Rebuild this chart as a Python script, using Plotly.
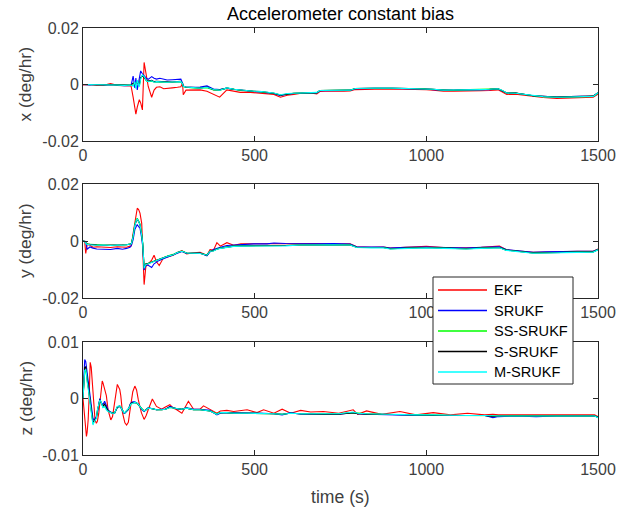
import numpy as np
import plotly.graph_objects as go
from plotly.subplots import make_subplots

SCALE = 1e-3  # values below are typed in units of 0.001 deg/hr

# ---------------- x channel ----------------
T_X = [0, 20, 40, 60, 80, 100, 120, 140, 146, 151,
       154, 158, 164, 168, 173, 178, 185, 190, 200, 207,
       214, 224, 235, 245, 260, 275, 285, 290, 292, 300,
       320, 341, 361, 380, 398, 419, 440, 458, 480, 497,
       520, 536, 556, 575, 595, 614, 640, 663, 681, 690,
       720, 760, 778, 793, 813, 850, 900, 950, 993, 1000,
       1020, 1050, 1080, 1099, 1130, 1160, 1184, 1209, 1220, 1234,
       1260, 1290, 1311, 1340, 1380, 1420, 1460, 1486, 1500]
EKF_X = [-0.2, 0.0, -0.3, -0.3, 0.3, -0.3, -0.4, -0.5, -4.5, -9.0,
         -10.5, -8.0, -5.4, -6.5, -9.0, 7.8, 2.0, -0.7, -4.5, -2.0,
         -1.0, -0.8, -1.5, -1.3, -1.2, -1.0, -0.8, 0.5, -3.6, -2.0,
         -1.9, -1.9, -2.4, -3.5, -4.5, -1.9, -2.3, -2.8, -2.7, -2.9,
         -3.0, -3.2, -3.5, -4.5, -3.8, -3.5, -3.0, -3.0, -3.3, -2.5,
         -2.3, -2.4, -2.3, -1.8, -1.7, -1.7, -1.6, -1.6, -1.6, -1.8,
         -2.0, -2.4, -2.4, -2.4, -2.2, -2.2, -2.1, -1.9, -2.6, -3.5,
         -3.4, -3.8, -4.3, -4.6, -4.9, -4.7, -4.6, -4.5, -3.4]
SRUKF_X = [0.0, -0.2, 0.0, -0.2, -0.1, -0.3, -0.4, -0.3, 3.0, -1.2,
           2.3, -1.9, 1.5, 4.8, 3.8, 3.0, 2.2, 1.8, 2.8, 2.2,
           1.9, 2.2, 1.9, 1.6, 1.7, 1.8, 1.9, 0.5, -0.5, -1.0,
           -1.0, -0.9, -0.5, -1.6, -1.8, -1.3, -1.8, -2.0, -2.3, -2.5,
           -2.6, -2.8, -3.2, -4.0, -3.4, -3.2, -3.1, -3.0, -3.0, -2.2,
           -2.1, -2.1, -2.1, -1.5, -1.4, -1.4, -1.4, -1.4, -1.4, -1.6,
           -1.8, -2.0, -2.1, -1.9, -1.9, -1.9, -1.8, -1.6, -2.3, -3.0,
           -3.0, -3.5, -4.0, -4.2, -4.4, -4.3, -4.2, -4.1, -3.0]
SS_SRUKF_X = [0.0, -0.1, -0.2, -0.1, -0.1, -0.2, -0.3, -0.2, -0.3, 0.8,
              -1.0, 1.2, -0.5, 2.2, 3.2, 2.6, 1.2, 1.1, 1.2, 0.9,
              1.0, 0.8, 0.8, 0.7, 0.8, 0.9, 1.0, 0.2, -0.7, -1.0,
              -1.2, -1.3, -1.1, -1.9, -2.0, -1.3, -1.7, -2.1, -2.2, -2.4,
              -2.5, -2.7, -3.1, -3.7, -3.3, -3.1, -3.0, -2.9, -2.9, -2.1,
              -2.0, -2.1, -2.0, -1.4, -1.4, -1.3, -1.3, -1.4, -1.4, -1.6,
              -1.7, -2.0, -2.1, -1.9, -1.8, -1.8, -1.7, -1.5, -2.1, -3.0,
              -3.0, -3.6, -4.0, -4.3, -4.5, -4.4, -4.3, -4.2, -3.0]
S_SRUKF_X = [0.0, -0.1, -0.1, -0.1, -0.1, -0.2, -0.3, -0.2, 0.5, 0.2,
             -0.5, 0.8, 0.0, 2.5, 3.0, 2.5, 1.4, 1.2, 1.5, 1.0,
             1.1, 1.0, 0.9, 0.8, 0.9, 1.0, 1.1, 0.3, -0.6, -0.9,
             -1.1, -1.2, -0.9, -1.8, -1.9, -1.3, -1.7, -2.0, -2.2, -2.4,
             -2.5, -2.7, -3.1, -3.7, -3.3, -3.1, -3.0, -2.9, -2.9, -2.1,
             -2.0, -2.0, -2.0, -1.4, -1.3, -1.3, -1.3, -1.4, -1.4, -1.5,
             -1.7, -2.0, -2.0, -1.8, -1.8, -1.8, -1.7, -1.5, -2.1, -3.0,
             -3.0, -3.5, -4.0, -4.2, -4.4, -4.3, -4.2, -4.1, -2.9]
M_SRUKF_X = [0.0, 0.0, -0.2, 0.0, -0.1, -0.2, -0.3, -0.2, -0.6, 1.0,
             -1.5, 1.5, -0.8, 2.0, 3.4, 2.8, 1.3, 1.0, 1.3, 0.8,
             1.0, 0.9, 0.7, 0.8, 0.9, 1.0, 1.0, 0.3, -0.6, -0.9,
             -1.1, -1.3, -1.0, -1.8, -2.0, -1.2, -1.7, -2.0, -2.2, -2.4,
             -2.5, -2.7, -3.0, -3.6, -3.2, -3.1, -3.0, -2.8, -2.8, -2.1,
             -2.0, -2.0, -2.0, -1.4, -1.3, -1.3, -1.3, -1.4, -1.4, -1.5,
             -1.7, -2.0, -2.0, -1.8, -1.8, -1.8, -1.7, -1.5, -2.0, -3.0,
             -3.1, -3.6, -4.0, -4.3, -4.5, -4.4, -4.3, -4.2, -2.9]

# ---------------- y channel ----------------
T_Y = [0, 5, 8, 12, 20, 29, 40, 60, 80, 100,
       115, 127, 137, 141, 146, 151, 156, 158, 162, 166,
       171, 174, 178, 183, 190, 200, 207, 214, 222, 234,
       248, 263, 275, 288, 302, 322, 341, 361, 370, 380,
       390, 400, 419, 439, 460, 497, 536, 556, 590, 633,
       681, 730, 778, 797, 840, 875, 895, 940, 1000, 1050,
       1116, 1160, 1213, 1233, 1270, 1311, 1350, 1398, 1440, 1486,
       1500]
EKF_Y = [0.0, -0.3, -4.4, -1.2, -1.5, -2.2, -2.0, -2.2, -2.3, -2.0,
         -2.2, -2.2, -1.8, -1.7, 2.7, 6.0, 10.0, 11.5, 11.0, 9.8,
         6.2, -1.0, -15.3, -9.0, -7.9, -6.7, -5.0, -7.3, -8.6, -6.0,
         -5.5, -5.0, -4.0, -3.4, -4.5, -4.1, -4.0, -5.0, -3.0, -3.2,
         -0.6, -1.8, -0.6, -1.5, -1.0, -1.0, -1.0, -0.8, -1.0, -1.0,
         -0.9, -1.1, -1.0, -2.0, -2.2, -2.1, -2.5, -2.2, -1.9, -2.3,
         -2.4, -2.2, -1.8, -3.1, -3.6, -4.0, -3.9, -3.6, -3.6, -3.6,
         -2.8]
SRUKF_Y = [0.0, 0.0, -0.2, -2.9, -2.1, -2.5, -2.8, -2.9, -3.0, -2.6,
           -2.9, -2.6, -2.2, -1.5, 0.5, 4.0, 5.6, 5.8, 5.0, 4.5,
           1.0, -2.0, -10.2, -8.5, -8.5, -9.3, -8.0, -7.3, -6.8, -6.2,
           -5.5, -4.8, -4.2, -3.7, -4.4, -4.3, -4.2, -5.2, -3.8, -3.0,
           -2.5, -2.2, -1.6, -1.4, -1.2, -1.0, -1.0, -0.7, -0.9, -1.0,
           -1.0, -0.9, -1.1, -2.0, -2.1, -2.1, -2.5, -2.2, -2.1, -2.3,
           -2.5, -2.2, -2.0, -3.0, -3.6, -4.0, -3.8, -3.6, -3.6, -3.6,
           -2.9]
SS_SRUKF_Y = [0.0, -0.2, -0.6, -1.0, -1.2, -1.3, -1.4, -1.4, -1.5, -1.3,
              -1.4, -1.3, -1.1, -0.9, 1.8, 5.8, 7.6, 8.0, 7.0, 6.0,
              2.3, -0.8, -9.3, -8.0, -7.8, -7.4, -7.0, -6.7, -6.4, -5.9,
              -5.2, -4.7, -4.0, -3.5, -4.2, -4.2, -4.3, -4.9, -3.6, -3.4,
              -2.8, -2.5, -2.1, -1.8, -1.7, -1.7, -1.6, -1.7, -1.6, -1.4,
              -1.3, -1.3, -1.3, -2.2, -2.3, -2.3, -2.7, -2.5, -2.3, -2.5,
              -2.7, -2.5, -2.3, -3.2, -3.8, -4.2, -4.1, -3.9, -3.9, -3.8,
              -3.0]
S_SRUKF_Y = [0.0, -0.2, -0.7, -1.1, -1.2, -1.4, -1.4, -1.5, -1.5, -1.4,
             -1.4, -1.3, -1.1, -0.9, 1.6, 5.6, 7.2, 7.6, 6.8, 5.7,
             2.1, -0.9, -9.4, -8.1, -7.9, -7.5, -7.0, -6.8, -6.5, -5.9,
             -5.3, -4.8, -4.0, -3.6, -4.2, -4.3, -4.3, -5.0, -3.6, -3.4,
             -2.8, -2.5, -2.1, -1.8, -1.7, -1.7, -1.6, -1.7, -1.6, -1.4,
             -1.3, -1.3, -1.4, -2.2, -2.3, -2.3, -2.7, -2.5, -2.3, -2.5,
             -2.7, -2.5, -2.3, -3.2, -3.8, -4.2, -4.1, -3.9, -3.9, -3.8,
             -3.0]
M_SRUKF_Y = [0.0, -0.3, -0.8, -1.2, -1.3, -1.4, -1.5, -1.4, -1.6, -1.4,
             -1.5, -1.3, -1.2, -1.0, 1.5, 5.5, 7.4, 7.8, 6.8, 5.8,
             2.0, -1.0, -9.6, -8.2, -8.0, -7.5, -7.1, -6.8, -6.5, -6.0,
             -5.3, -4.8, -4.0, -3.6, -4.2, -4.3, -4.4, -5.0, -3.6, -3.5,
             -2.9, -2.6, -2.2, -1.9, -1.8, -1.8, -1.7, -1.8, -1.7, -1.4,
             -1.3, -1.3, -1.4, -2.3, -2.4, -2.4, -2.8, -2.6, -2.4, -2.6,
             -2.8, -2.6, -2.4, -3.3, -3.9, -4.3, -4.2, -4.0, -4.0, -3.9,
             -3.1]

# ---------------- z channel ----------------
T_Z = [0, 3, 5, 8, 10, 12, 15, 18, 21, 24,
       27, 29, 32, 35, 39, 42, 46, 49, 52, 56,
       58, 63, 68, 73, 81, 86, 92, 100, 107, 110,
       115, 119, 122, 127, 132, 136, 139, 145, 151, 156,
       161, 170, 178, 184, 190, 202, 214, 229, 240, 253,
       263, 273, 288, 302, 307, 322, 341, 351, 370, 390,
       400, 419, 439, 478, 507, 526, 556, 580, 605, 634,
       663, 700, 745, 787, 800, 826, 870, 923, 970, 1020,
       1070, 1120, 1170, 1194, 1210, 1260, 1320, 1380, 1440, 1490,
       1500]
EKF_Z = [0.0, -2.0, -3.2, -5.5, -6.7, -6.0, -3.8, 0.5, 6.4, 5.5,
         2.7, 0.5, -2.6, -3.8, -4.4, -4.0, -2.6, -0.5, 1.5, 3.1,
         2.8, 1.6, 0.5, -2.0, -3.8, -3.2, -0.8, 2.5, 1.6, 0.5,
         -2.5, -3.8, -4.3, -4.7, -4.2, -2.5, -1.0, 1.2, 2.2, 1.5,
         -0.2, -2.5, -3.7, -3.0, -2.0, -0.1, -1.4, -1.9, -1.5, -1.1,
         -1.7, -2.0, -2.6, -1.0, -0.5, -1.9, -1.9, -1.3, -2.0, -2.6,
         -2.2, -2.1, -2.3, -2.0, -2.5, -2.0, -2.6, -1.9, -2.6, -2.1,
         -2.4, -2.3, -2.6, -2.0, -2.8, -2.2, -2.8, -2.3, -2.9, -2.5,
         -2.9, -2.6, -2.9, -2.8, -2.9, -2.9, -3.0, -2.9, -3.0, -2.9,
         -3.2]
SRUKF_Z = [0.0, 4.5, 6.9, 6.5, 5.5, 5.0, 3.5, 1.5, 0.0, -2.0,
           -3.0, -3.5, -3.8, -3.6, -3.2, -2.5, -0.8, 0.0, -0.7, -1.0,
           -1.1, -0.5, -1.2, -2.0, -2.4, -2.6, -2.6, -1.6, -1.4, -1.6,
           -2.2, -2.6, -2.6, -2.3, -2.0, -1.2, -0.8, -0.6, -0.6, -0.8,
           -1.0, -1.9, -2.3, -2.0, -1.6, -1.8, -2.0, -1.9, -1.9, -1.4,
           -1.6, -1.8, -1.9, -1.6, -1.7, -1.9, -1.9, -2.0, -2.1, -2.9,
           -2.6, -2.5, -2.5, -2.6, -2.6, -2.6, -2.7, -2.9, -2.5, -2.8,
           -2.8, -2.8, -2.8, -2.5, -2.7, -2.8, -2.9, -2.9, -3.0, -3.0,
           -3.0, -3.1, -3.0, -3.4, -3.2, -3.1, -3.2, -3.1, -3.1, -3.1,
           -3.3]
SS_SRUKF_Z = [0.0, 3.6, 4.8, 5.0, 4.4, 3.2, 2.1, 0.6, -0.9, -2.4,
              -3.8, -4.5, -4.1, -3.7, -3.4, -2.1, -0.9, -0.4, -0.6, -1.2,
              -1.5, -1.4, -1.9, -2.2, -2.5, -2.6, -2.5, -1.5, -1.4, -1.5,
              -2.1, -2.5, -2.5, -2.2, -1.9, -1.4, -1.0, -0.8, -0.7, -0.8,
              -1.1, -1.8, -2.2, -2.0, -1.7, -1.8, -2.0, -2.0, -1.9, -1.6,
              -1.7, -1.8, -1.9, -1.7, -1.8, -2.0, -2.0, -2.1, -2.2, -2.7,
              -2.5, -2.5, -2.6, -2.6, -2.6, -2.6, -2.7, -2.8, -2.6, -2.7,
              -2.7, -2.7, -2.7, -2.5, -2.6, -2.7, -2.8, -2.8, -2.9, -2.9,
              -3.0, -3.0, -3.0, -3.1, -3.1, -3.1, -3.1, -3.1, -3.1, -3.1,
              -3.3]
S_SRUKF_Z = [0.0, 4.0, 5.5, 5.6, 4.8, 3.8, 2.5, 0.9, -0.6, -2.2,
             -3.6, -4.2, -4.0, -3.7, -3.4, -2.2, -0.8, -0.2, -0.6, -1.1,
             -1.4, -1.0, -1.7, -2.2, -2.5, -2.6, -2.6, -1.5, -1.3, -1.5,
             -2.1, -2.5, -2.5, -2.2, -1.9, -1.4, -0.9, -0.7, -0.7, -0.8,
             -1.0, -1.8, -2.2, -2.0, -1.7, -1.8, -2.0, -2.0, -1.9, -1.5,
             -1.7, -1.8, -1.9, -1.7, -1.8, -2.0, -2.0, -2.1, -2.2, -2.8,
             -2.5, -2.5, -2.6, -2.6, -2.6, -2.6, -2.7, -2.8, -2.6, -2.7,
             -2.8, -2.8, -2.8, -2.5, -2.7, -2.8, -2.8, -2.9, -2.9, -3.0,
             -3.0, -3.0, -3.0, -3.2, -3.1, -3.1, -3.1, -3.1, -3.1, -3.1,
             -3.3]
M_SRUKF_Z = [0.0, 3.9, 5.0, 5.1, 4.5, 3.0, 2.0, 0.5, -1.0, -2.5,
             -4.0, -4.7, -4.2, -3.8, -3.5, -2.0, -0.8, -0.3, -0.5, -1.2,
             -1.6, -1.4, -2.0, -2.3, -2.5, -2.6, -2.6, -1.4, -1.3, -1.5,
             -2.1, -2.5, -2.5, -2.2, -1.9, -1.5, -1.0, -0.8, -0.7, -0.8,
             -1.0, -1.8, -2.2, -2.0, -1.7, -1.8, -2.0, -2.0, -1.9, -1.6,
             -1.7, -1.8, -1.9, -1.7, -1.8, -2.0, -2.0, -2.1, -2.2, -2.8,
             -2.5, -2.5, -2.6, -2.6, -2.6, -2.6, -2.7, -2.8, -2.6, -2.7,
             -2.7, -2.7, -2.7, -2.4, -2.6, -2.7, -2.8, -2.9, -2.9, -2.9,
             -3.0, -3.0, -3.0, -3.1, -3.1, -3.1, -3.1, -3.1, -3.1, -3.1,
             -3.4]

SERIES_NAMES = ["EKF", "SRUKF", "SS-SRUKF", "S-SRUKF", "M-SRUKF"]
SERIES_COLORS = ["#ff0000", "#0000ff", "#00ff00", "#000000", "#00ffff"]
X_TICKS = [0, 500, 1000, 1500]
Y_LABELS = ["x (deg/hr)", "y (deg/hr)", "z (deg/hr)"]
TITLE = "Accelerometer constant bias"
X_LABEL = "time (s)"

panels = [
    (T_X, [EKF_X, SRUKF_X, SS_SRUKF_X, S_SRUKF_X, M_SRUKF_X], [-0.02, 0.02], [-0.02, 0, 0.02], ["-0.02", "0", "0.02"]),
    (T_Y, [EKF_Y, SRUKF_Y, SS_SRUKF_Y, S_SRUKF_Y, M_SRUKF_Y], [-0.02, 0.02], [-0.02, 0, 0.02], ["-0.02", "0", "0.02"]),
    (T_Z, [EKF_Z, SRUKF_Z, SS_SRUKF_Z, S_SRUKF_Z, M_SRUKF_Z], [-0.01, 0.01], [-0.01, 0, 0.01], ["-0.01", "0", "0.01"]),
]

for t, sers, *_ in panels:
    for s in sers:
        if len(s) != len(t):
            raise ValueError(f"length mismatch {len(s)} vs {len(t)}")

# The body margin is removed after plotting (see post_script), so the figure
# fills the 624x509 window from its top-left corner.
W, H = 624, 509
FONT = "Liberation Sans, Arial, Helvetica, sans-serif"
AXC = "#262626"


def px(x):
    return x / W


def py(y):
    return 1 - y / H


fig = make_subplots(rows=3, cols=1)

for r, (t, sers, yr, yt, ytt) in enumerate(panels, start=1):
    for i, s in enumerate(sers):
        fig.add_trace(go.Scatter(
            x=t, y=np.array(s) * SCALE, mode="lines",
            name=SERIES_NAMES[i], showlegend=False,
            line=dict(color=SERIES_COLORS[i], width=1.1),
        ), row=r, col=1)

# pixel geometry of the three axes (top, bottom)
x0, x1 = 83, 598
rows_px = [(28, 141), (184, 298), (342, 455)]

for r, ((top, bot), (_, _, yr, yt, ytt)) in enumerate(zip(rows_px, panels), start=1):
    xa = "xaxis" if r == 1 else f"xaxis{r}"
    ya = "yaxis" if r == 1 else f"yaxis{r}"
    fig.layout[xa].update(
        domain=[px(x0), px(x1)], range=[0, 1500], tickvals=X_TICKS,
        ticktext=[str(v) for v in X_TICKS], automargin=False,
        showline=True, mirror="ticks", linecolor=AXC, linewidth=1,
        ticks="inside", ticklen=5, tickcolor=AXC, showgrid=False, zeroline=False,
        tickfont=dict(family=FONT, size=16, color="#404040"),
    )
    fig.layout[ya].update(
        domain=[py(bot), py(top)], range=yr, tickvals=yt, ticktext=ytt,
        automargin=False,
        showline=True, mirror="ticks", linecolor=AXC, linewidth=1,
        ticks="inside", ticklen=5, tickcolor=AXC, showgrid=False, zeroline=False,
        tickfont=dict(family=FONT, size=16, color="#404040"),
    )

annotations = [
    dict(text=TITLE, x=px((x0 + x1) / 2), y=py(14), xref="paper", yref="paper",
         xanchor="center", yanchor="middle", showarrow=False,
         font=dict(family=FONT, size=18, color="#000000")),
    dict(text=X_LABEL, x=px((x0 + x1) / 2), y=py(497), xref="paper", yref="paper",
         xanchor="center", yanchor="middle", showarrow=False,
         font=dict(family=FONT, size=17.6, color="#404040")),
]
for (top, bot), lab in zip(rows_px, Y_LABELS):
    annotations.append(dict(
        text=lab, x=px(25), y=py((top + bot) / 2), xref="paper", yref="paper",
        xanchor="center", yanchor="middle", textangle=-90, showarrow=False,
        font=dict(family=FONT, size=17.4, color="#404040")))

# legend drawn as a box with key lines and labels (pixel geometry)
LEG_BOX = (433, 277, 573, 384)
LEG_ROWS = [290, 310.5, 331, 351.5, 372]
shapes = [dict(type="rect", xref="paper", yref="paper",
               x0=px(LEG_BOX[0]), x1=px(LEG_BOX[2]), y0=py(LEG_BOX[3]), y1=py(LEG_BOX[1]),
               fillcolor="white", line=dict(color=AXC, width=1), layer="above")]
for name, col, yrow in zip(SERIES_NAMES, SERIES_COLORS, LEG_ROWS):
    shapes.append(dict(type="line", xref="paper", yref="paper",
                       x0=px(438), x1=px(487), y0=py(yrow), y1=py(yrow),
                       line=dict(color=col, width=1.3), layer="above"))
    annotations.append(dict(text=name, x=px(492), y=py(yrow), xref="paper", yref="paper",
                            xanchor="left", yanchor="middle", showarrow=False,
                            font=dict(family=FONT, size=14.6, color="#000000")))

fig.update_layout(
    template="none",
    width=W, height=H,
    margin=dict(l=0, r=0, t=0, b=0, pad=0),
    paper_bgcolor="white", plot_bgcolor="white",
    font=dict(family=FONT, size=16, color="#262626"),
    annotations=annotations,
    shapes=shapes,
    showlegend=False,
)

fig.write_html("out.html",
               config={"displayModeBar": False},
               post_script="document.body.style.margin='0';document.body.style.overflow='hidden';")
